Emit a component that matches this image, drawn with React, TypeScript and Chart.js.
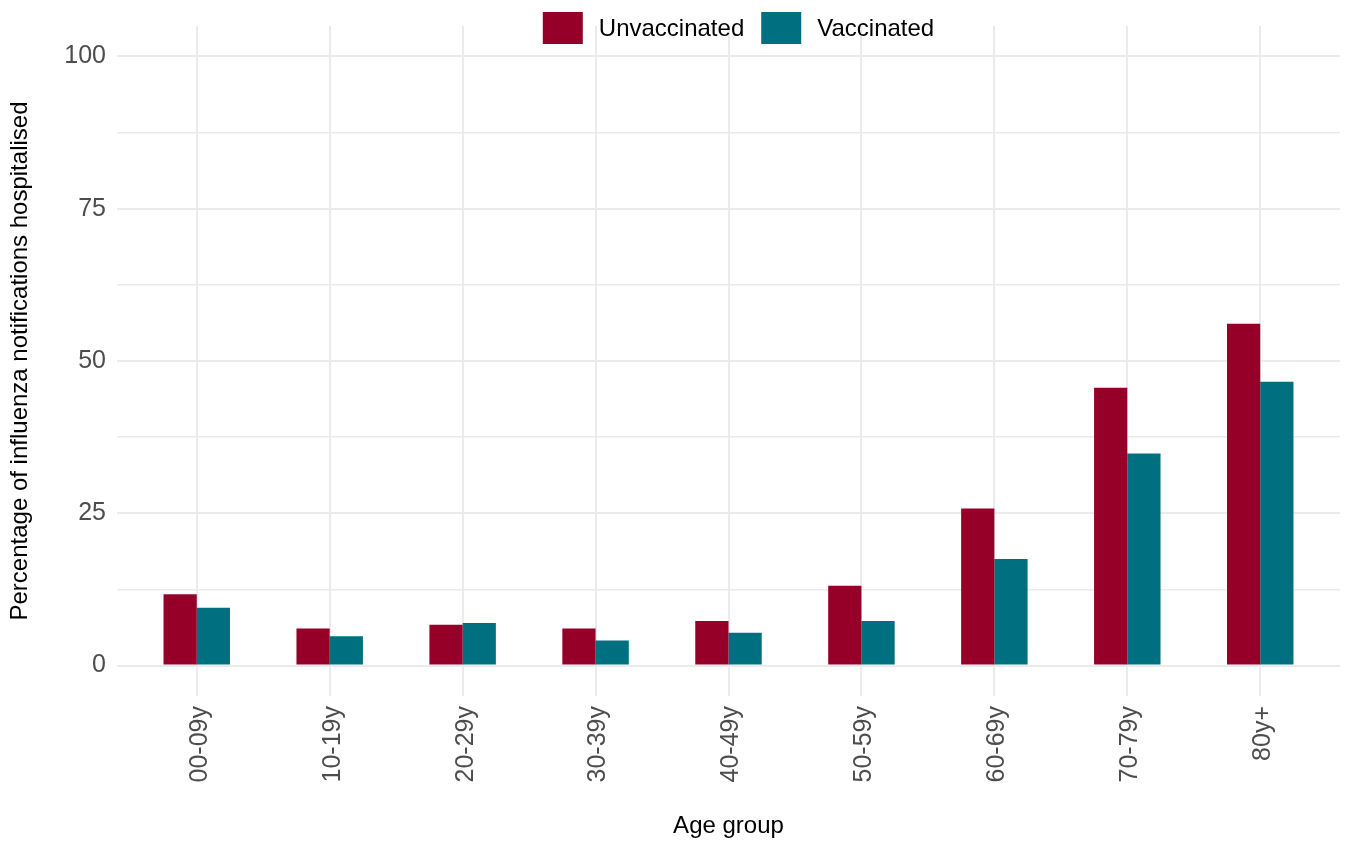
import React, { useEffect, useRef } from "react";
import { Chart, registerables } from "chart.js";

Chart.register(...registerables);

const ageGroups = ["00-09y", "10-19y", "20-29y", "30-39y", "40-49y", "50-59y", "60-69y", "70-79y", "80y+"];
const unvaccinated = [11.7, 6.1, 6.7, 6.1, 7.3, 13.1, 25.8, 45.6, 56.1];
const vaccinated = [9.5, 4.8, 7.0, 4.1, 5.4, 7.3, 17.5, 34.8, 46.6];
const yTickLabels = [0, 25, 50, 75, 100];
const seriesNames = ["Unvaccinated", "Vaccinated"];
const seriesColors = ["#960028", "#007080"];
const xTitle = "Age group";
const yTitle = "Percentage of influenza notifications hospitalised";

const FONT = 'Arial, "Liberation Sans", sans-serif';

const legendPlugin = {
  id: "ggLegend",
  afterDraw(chart: any) {
    const ctx = chart.ctx;
    const ca = chart.chartArea;
    ctx.save();
    ctx.font = `24px ${FONT}`;
    const boxW = 40;
    const boxH = 32;
    const gapBoxText = 16;
    const gapItems = 17;
    const items = chart.data.datasets.map((ds: any) => ({
      label: ds.label,
      color: ds.backgroundColor,
      w: ctx.measureText(ds.label).width,
    }));
    const total =
      items.reduce((s: number, it: any) => s + boxW + gapBoxText + it.w, 0) + gapItems * (items.length - 1);
    let x = (ca.left + ca.right) / 2 + 10 - total / 2;
    const top = 12;
    items.forEach((it: any) => {
      ctx.fillStyle = it.color;
      ctx.fillRect(x, top, boxW, boxH);
      x += boxW + gapBoxText;
      ctx.fillStyle = "#000000";
      ctx.textBaseline = "middle";
      ctx.textAlign = "left";
      ctx.fillText(it.label, x, top + boxH / 2 + 1);
      x += it.w + gapItems;
    });
    ctx.restore();
  },
};

export default function App() {
  const ref = useRef<HTMLCanvasElement | null>(null);

  useEffect(() => {
    if (!ref.current) return;
    const chart = new Chart(ref.current, {
      type: "bar",
      data: {
        datasets: [
          {
            label: seriesNames[0],
            data: ageGroups.map((_, i) => ({ x: i, y: unvaccinated[i] })),
            backgroundColor: seriesColors[0],
            borderWidth: 0,
          },
          {
            label: seriesNames[1],
            data: ageGroups.map((_, i) => ({ x: i, y: vaccinated[i] })),
            backgroundColor: seriesColors[1],
            borderWidth: 0,
          },
        ],
      },
      options: {
        responsive: false,
        animation: false,
        categoryPercentage: 0.5,
        barPercentage: 1,
        layout: { padding: { top: 24, left: 0, right: 6, bottom: 0 } },
        plugins: {
          legend: { display: false },
          tooltip: { enabled: false },
        },
        scales: {
          x: {
            type: "linear",
            offset: false,
            min: -0.6,
            max: 8.6,
            afterFit: (scale: any) => {
              scale.height = 146;
            },
            ticks: {
              stepSize: 1,
              includeBounds: false,
              autoSkip: false,
              minRotation: 90,
              maxRotation: 90,
              padding: 10,
              labelOffset: 3,
              color: "#4D4D4D",
              font: { family: FONT, size: 25 },
              callback: (v: any) => ageGroups[v] ?? "",
            },
            grid: { color: "#EBEBEB", lineWidth: 2, drawTicks: false, offset: false },
            border: { display: false },
            title: {
              display: true,
              text: xTitle,
              color: "#000000",
              font: { family: FONT, size: 24 },
              padding: { top: 0, bottom: 1 },
            },
          },
          y: {
            type: "linear",
            min: -5,
            max: 105,
            afterFit: (scale: any) => {
              scale.width = 117;
            },
            ticks: {
              stepSize: 12.5,
              includeBounds: false,
              padding: 11,
              color: "#4D4D4D",
              font: { family: FONT, size: 25 },
              callback: (v: any) => (yTickLabels.includes(v) ? String(v) : ""),
            },
            grid: {
              color: "#EBEBEB",
              drawTicks: false,
              lineWidth: (ctx: any) => (ctx.tick && yTickLabels.includes(ctx.tick.value) ? 2 : 1.4),
            },
            border: { display: false },
            title: {
              display: true,
              text: yTitle,
              color: "#000000",
              font: { family: FONT, size: 24 },
              padding: { top: 6, bottom: 0 },
            },
          },
        },
      },
      plugins: [legendPlugin],
    } as any);
    return () => chart.destroy();
  }, []);

  return (
    <div style={{ position: "absolute", left: 0, top: 0, width: 1346, height: 842, background: "#ffffff" }}>
      <canvas ref={ref} width={1346} height={842} style={{ display: "block" }} />
    </div>
  );
}
